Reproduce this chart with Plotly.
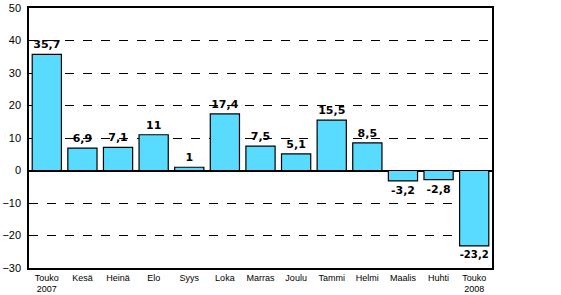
import plotly.graph_objects as go

categories = ["Touko<br>2007", "Kesä", "Heinä", "Elo", "Syys", "Loka", "Marras",
              "Joulu", "Tammi", "Helmi", "Maalis", "Huhti", "Touko<br>2008"]
values = [35.7, 6.9, 7.1, 11, 1, 17.4, 7.5, 5.1, 15.5, 8.5, -3.2, -2.8, -23.2]
y_ticks = [-30, -20, -10, 0, 10, 20, 30, 40, 50]

def fmt(v):
    s = ("%g" % v).replace(".", ",")
    return s

fig = go.Figure(go.Bar(
    x=categories, y=values,
    text=[fmt(v) for v in values],
    textposition="outside",
    textfont=dict(family="DejaVu Sans", size=11, color="black", weight="bold"),
    marker=dict(color="#59DBFF", line=dict(color="black", width=1.2)),
    cliponaxis=False,
))

fig.update_layout(
    width=561, height=295,
    margin=dict(l=29, r=69, t=8, b=27, autoexpand=False),
    paper_bgcolor="white", plot_bgcolor="white",
    bargap=0.18,
    showlegend=False,
    font=dict(family="Arial, Liberation Sans", color="black"),
    uniformtext=dict(minsize=8),
)
fig.update_xaxes(
    showline=True, linecolor="black", linewidth=1.5, mirror=True,
    ticks="", tickfont=dict(size=9), showgrid=False, automargin=False,
)
fig.update_yaxes(
    range=[-30, 50], tickvals=y_ticks,
    showline=True, linecolor="black", linewidth=1.5, mirror=True,
    showgrid=True, gridcolor="black", griddash="dash", gridwidth=1,
    zeroline=True, zerolinecolor="black", zerolinewidth=1.5,
    ticks="", tickfont=dict(size=11), ticklabelstandoff=4, automargin=False,
)
fig.write_html("out.html")
